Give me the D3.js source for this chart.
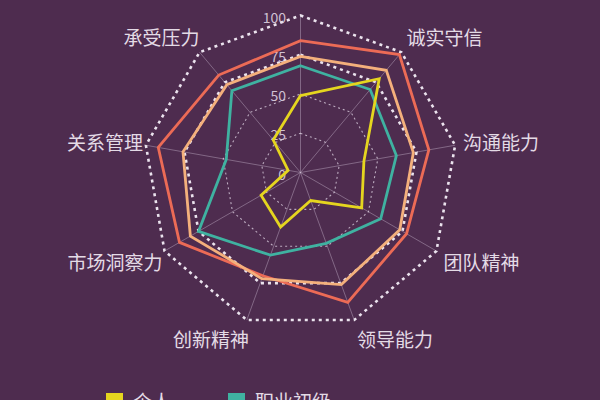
<!DOCTYPE html>
<html>
<head>
<meta charset="utf-8">
<script src="https://cdn.jsdelivr.net/npm/d3@7"></script>
<style>
  html, body { margin: 0; padding: 0; background: #4e2c4f; }
  svg { display: block; }
  text { font-family: "Noto Sans CJK SC", "Noto Sans", sans-serif; }
</style>
</head>
<body>
<svg id="chart" width="600" height="400"></svg>
<script>
// ---- data ----
const axes = ["专业技能", "诚实守信", "沟通能力", "团队精神", "领导能力", "创新精神", "市场洞察力", "关系管理", "承受压力"];
const tickValues = [0, 25, 50, 75, 100];
const seriesNames = ["个人", "职业初级", "职业中级", "职业高级"];
const personal = [49, 78, 41, 45, 19, 37, 29, 8, 27];
const junior   = [68, 69, 62, 59, 48, 56, 75, 48, 68];
const middle   = [74, 85, 73, 73, 76, 72, 81, 76, 73];
const senior   = [84, 98, 83, 78, 88, 70, 89, 92, 81];
const seriesValues = [personal, junior, middle, senior];

// ---- layout / style ----
const W = 600, H = 400;
const cx = 300.5, cy = 172.5, R = 157;
const colors = ["#e5d51f", "#3fb2a1", "#f4b07c", "#ec6b56"];
const textColor = "#e4dbe6";

const svg = d3.select("#chart");
svg.append("rect").attr("width", W).attr("height", H).attr("fill", "#4e2c4f");

const r = d3.scaleLinear().domain([0, 100]).range([0, R]);
const angle = d3.scaleLinear().domain([0, axes.length]).range([0, 2 * Math.PI]);

function pt(i, v) {
  const a = angle(i);
  return [cx + Math.sin(a) * r(v), cy - Math.cos(a) * r(v)];
}

const g = svg.append("g");

// axis lines
axes.forEach((name, i) => {
  const [x, y] = pt(i, 100);
  g.append("line")
    .attr("x1", cx).attr("y1", cy).attr("x2", x).attr("y2", y)
    .attr("stroke", "rgba(230,215,235,0.35)").attr("stroke-width", 1);
});

// grid rings
const ringLine = d3.line();
tickValues.filter(t => t > 0).forEach(t => {
  const pts = axes.map((_, i) => pt(i, t));
  const strong = t >= 75;
  g.append("path")
    .attr("d", ringLine(pts) + "Z")
    .attr("fill", "none")
    .attr("stroke", strong ? "#ebe3ee" : "rgba(235,225,240,0.7)")
    .attr("stroke-width", strong ? 2.6 : 1.1)
    .attr("stroke-dasharray", strong ? "3 4" : "2 3");
});

// tick labels
tickValues.forEach(t => {
  const [, y] = pt(0, t);
  g.append("text")
    .attr("x", 286).attr("y", y + 1)
    .attr("text-anchor", "end")
    .attr("dominant-baseline", "central")
    .attr("font-size", 14)
    .attr("fill", "rgba(232,222,236,0.85)")
    .text(t);
});

// series (highest first, personal last on top)
const radarLine = d3.lineRadial()
  .angle((d, i) => angle(i))
  .radius(d => r(d))
  .curve(d3.curveLinearClosed);

[3, 2, 1, 0].forEach(si => {
  g.append("path")
    .attr("transform", `translate(${cx},${cy})`)
    .attr("d", radarLine(seriesValues[si]))
    .attr("fill", "none")
    .attr("stroke", colors[si])
    .attr("stroke-width", 2.8)
    .attr("stroke-linejoin", "miter");
});

// axis names
axes.forEach((name, i) => {
  const a = angle(i);
  const s = Math.sin(a), c = Math.cos(a);
  const [vx, vy] = pt(i, 100);
  const anchor = s > 0.1 ? "start" : (s < -0.1 ? "end" : "middle");
  g.append("text")
    .attr("x", vx + s * 8 + (s < -0.1 ? 5 : 0))
    .attr("y", vy - c * (c > 0.9 ? 27 : 20))
    .attr("text-anchor", anchor)
    .attr("dominant-baseline", "central")
    .attr("font-size", 19)
    .attr("fill", textColor)
    .text(name);
});

// legend
const legendX = [106, 228, 106, 228];
const legendY = [393, 393, 425, 425];
seriesNames.forEach((name, i) => {
  g.append("rect")
    .attr("x", legendX[i]).attr("y", legendY[i])
    .attr("width", 17).attr("height", 17)
    .attr("fill", colors[i]);
  g.append("text")
    .attr("x", legendX[i] + 27).attr("y", legendY[i] + 16)
    .attr("font-size", 19)
    .attr("fill", textColor)
    .text(name);
});
</script>
</body>
</html>
